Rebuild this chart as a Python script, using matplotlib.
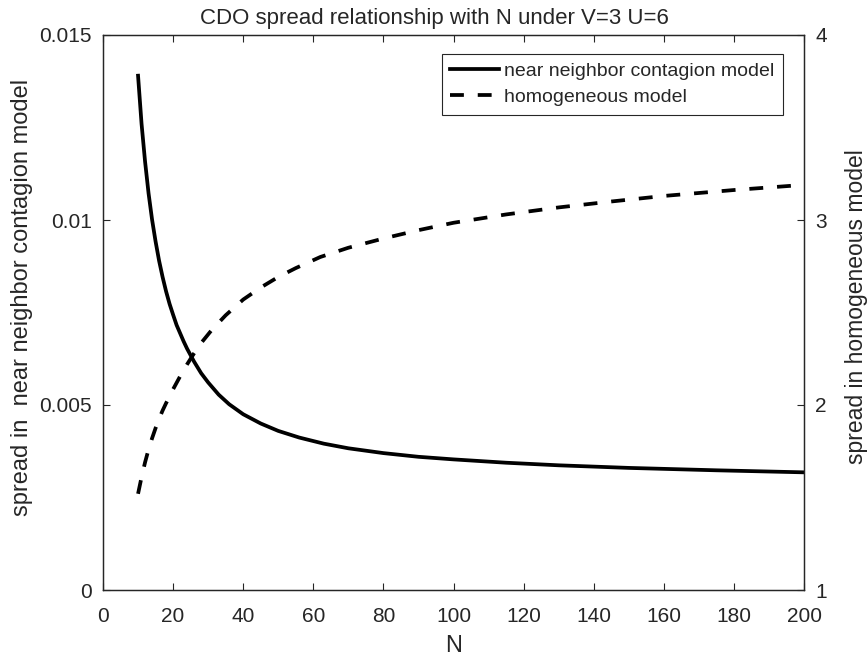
import matplotlib
matplotlib.use("Agg")
import matplotlib.pyplot as plt

plt.rcParams["font.family"] = ["Liberation Sans", "DejaVu Sans"]

# near neighbor contagion model (left axis)
n_contagion = [10, 11, 12, 13, 14, 15, 16, 17, 18, 19, 20, 21, 22, 23, 24, 26,
               28, 30, 33, 36, 40, 45, 50, 56, 63, 70, 80, 90, 100, 115, 130,
               150, 175, 200]
spread_contagion = [0.0139, 0.0126, 0.01158, 0.01072, 0.01001, 0.00942,
                    0.0089, 0.00846, 0.00807, 0.00773, 0.00744, 0.00716,
                    0.00694, 0.00672, 0.00652, 0.00617, 0.00586, 0.00561,
                    0.00528, 0.00502, 0.00475, 0.0045, 0.0043, 0.00412,
                    0.003955, 0.00383, 0.0037, 0.0036, 0.00353, 0.00344,
                    0.00337, 0.0033, 0.003235, 0.00318]

# homogeneous model (right axis)
n_homog = [10, 11, 12, 13, 14, 15, 16, 17, 18, 20, 22, 24, 26, 28, 31, 35, 40,
           45, 50, 55, 62, 70, 80, 90, 100, 115, 130, 145, 160, 180, 200]
spread_homog = [1.52, 1.61, 1.69, 1.76, 1.82, 1.875, 1.925, 1.97, 2.01, 2.085,
                2.155, 2.22, 2.28, 2.335, 2.405, 2.485, 2.57, 2.635, 2.692,
                2.74, 2.80, 2.85, 2.90, 2.945, 2.985, 3.03, 3.068, 3.10, 3.13,
                3.162, 3.19]

x_ticks = list(range(0, 201, 20))
left_ticks = [0, 0.005, 0.01, 0.015]
left_labels = ["0", "0.005", "0.01", "0.015"]
right_ticks = [1, 2, 3, 4]

TXT = "#262626"
FS = 15

fig = plt.figure(figsize=(8.67, 6.62), dpi=100)
ax = fig.add_axes([103 / 867, 72 / 662, 701 / 867, 555 / 662])
ax2 = ax.twinx()

l1, = ax.plot(n_contagion, spread_contagion, color="black", lw=2.7,
              solid_joinstyle="round")
l2, = ax2.plot(n_homog, spread_homog, color="black", lw=2.7,
               dashes=[3.7, 3.7])

ax.set_xlim(0, 200)
ax.set_ylim(0, 0.015)
ax2.set_ylim(1, 4)
ax.set_xticks(x_ticks)
ax.set_yticks(left_ticks)
ax.set_yticklabels(left_labels)
ax2.set_yticks(right_ticks)

ax.tick_params(axis="x", direction="in", top=True, length=5, width=0.8,
               labelsize=FS, colors=TXT, pad=12)
ax.tick_params(axis="y", direction="in", length=5, width=0.8,
               labelsize=FS, colors=TXT, pad=8)
ax2.tick_params(axis="y", direction="in", length=5, width=0.8,
                labelsize=FS, colors=TXT, pad=8)

for a in (ax, ax2):
    for s in a.spines.values():
        s.set_color(TXT)
        s.set_linewidth(0.9)

ax.set_title("CDO spread relationship with N under V=3 U=6", fontsize=16,
             color=TXT, x=0.473, pad=8)
ax.set_xlabel("N", fontsize=17, color=TXT, labelpad=7)
ax.set_ylabel("spread in  near neighbor contagion model", fontsize=17,
              color=TXT)
ax.yaxis.set_label_coords(-0.1, 0.528)
ax2.set_ylabel("spread in homogeneous model", fontsize=16.5, color=TXT)
ax2.yaxis.set_label_coords(1.058, 0.51)

leg = ax.legend([l1, l2], ["near neighbor contagion model", "homogeneous model"],
                loc="upper right", bbox_to_anchor=(0.970, 0.966),
                borderaxespad=0, fontsize=14, handlelength=2.5,
                handletextpad=0.25, labelspacing=0.42, borderpad=0.45,
                fancybox=False, framealpha=1, edgecolor=TXT)
leg.get_frame().set_linewidth(0.8)
for t in leg.get_texts():
    t.set_color(TXT)

fig.savefig("out.png", dpi=100)
